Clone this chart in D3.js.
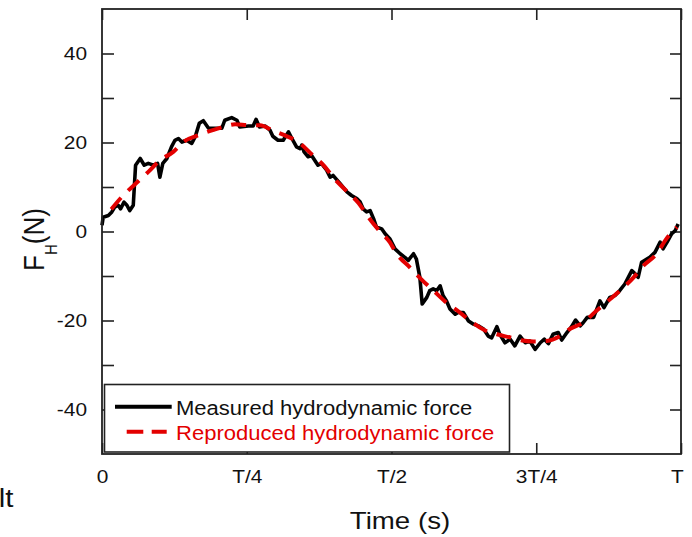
<!DOCTYPE html>
<html>
<head>
<meta charset="utf-8">
<script src="https://cdn.jsdelivr.net/npm/d3@7"></script>
<style>
  body { margin: 0; background: #fff; }
  text { font-family: Arial, "Liberation Sans", sans-serif; }
</style>
</head>
<body>
<div id="chart-area"></div>
<script>

// Data (time in periods T, force in N)
let measuredTime = [0, 0.002, 0.011, 0.017, 0.022, 0.028, 0.032, 0.038, 0.043, 0.048, 0.054, 0.058, 0.066, 0.073, 0.080, 0.089, 0.096, 0.100, 0.105, 0.112, 0.120, 0.126, 0.132, 0.138, 0.146, 0.155, 0.161, 0.168,
  0.175, 0.184, 0.195, 0.207, 0.212, 0.224, 0.233, 0.238, 0.253, 0.261, 0.266, 0.272, 0.282, 0.290, 0.295, 0.304, 0.313, 0.322, 0.328, 0.336, 0.342,
  0.345, 0.349, 0.356, 0.362, 0.373, 0.379, 0.388, 0.394, 0.399, 0.411, 0.423, 0.431, 0.440, 0.446, 0.451, 0.457, 0.463, 0.469, 0.474, 0.483, 0.489, 0.497, 0.506,
  0.515, 0.523, 0.529, 0.538, 0.543, 0.549, 0.553, 0.561, 0.566, 0.572, 0.578, 0.584, 0.589, 0.595, 0.601, 0.610, 0.615, 0.624, 0.633, 0.641, 0.650, 0.659, 0.667, 0.673,
  0.682, 0.687, 0.696, 0.705, 0.713, 0.722, 0.731, 0.739, 0.748, 0.757, 0.764, 0.771, 0.779, 0.788, 0.794, 0.803, 0.811, 0.818, 0.826, 0.831,
  0.838, 0.849, 0.860, 0.867, 0.877, 0.886, 0.894, 0.903, 0.915, 0.921, 0.926, 0.932, 0.941, 0.946, 0.955, 0.964, 0.969, 0.976, 0.984, 0.990, 0.995];

let measuredForce = [1.4, 3.2, 3.6, 4.4, 5.5, 5.9, 5.1, 6.6, 5.9, 4.7, 5.9, 14.9, 16.4, 14.9, 15.3, 14.9, 15.3, 12.2, 15.3, 16.4, 19.0, 20.5, 20.9, 20.1, 20.5, 19.8, 21.3, 24.3,
  24.9, 23.2, 23.2, 23.2, 25.0, 25.6, 25.0, 23.5, 23.7, 23.7, 25.2, 23.5, 23.7, 22.8, 21.4, 20.5, 20.5, 22.4, 20.9, 19.0, 18.6,
  19.4, 17.9, 16.8, 17.1, 14.9, 15.3, 13.8, 12.2, 12.6, 10.8, 8.9, 8.1, 7.4, 6.6, 5.1, 4.4, 4.7, 2.9, 1.0, 0.6, -0.5, -1.6, -3.9,
  -5.0, -5.8, -6.5, -5.0, -6.2, -10.3, -16.3, -14.8, -13.3, -12.9, -13.3, -12.2, -14.4, -15.6, -17.4, -18.6, -18.2, -18.2, -20.1, -20.8, -21.2, -21.9, -23.5, -23.9,
  -21.4, -23.1, -25.0, -24.2, -25.7, -23.5, -25.0, -24.6, -26.5, -25.0, -24.2, -25.2, -23.1, -22.7, -24.4, -22.7, -21.4, -19.9, -21.2, -20.5,
  -19.3, -19.3, -15.6, -17.1, -14.8, -14.4, -13.3, -11.8, -8.8, -9.5, -10.3, -6.9, -6.2, -5.8, -4.7, -2.4, -3.9, -2.4, -0.5, 0.2, 1.7];

let reproducedTime = [0.016, 0.038, 0.057, 0.080, 0.100, 0.123, 0.140, 0.166, 0.187, 0.209, 0.230, 0.254, 0.273, 0.296, 0.316, 0.342, 0.361, 0.384, 0.401, 0.424, 0.443, 0.459, 0.476, 0.497,
  0.509, 0.532, 0.552, 0.575, 0.595, 0.618, 0.636, 0.661, 0.682, 0.705, 0.722, 0.745, 0.768, 0.791, 0.808, 0.831, 0.854, 0.874, 0.898, 0.921, 0.935, 0.958, 0.975, 0.993];

let reproducedForce = [5.0, 8.3, 10.6, 13.4, 16.0, 17.9, 20.1, 21.6, 22.6, 23.5, 24.1, 23.9, 23.9, 22.6, 21.6, 19.8, 17.5, 14.7, 11.9, 8.9, 6.4, 3.4, 0.6, -2.4,
  -5.0, -8.1, -10.8, -13.6, -16.0, -18.2, -20.1, -22.2, -23.1, -23.8, -24.4, -24.7, -24.6, -23.5, -21.9, -20.5, -17.8, -15.6, -12.9, -9.9, -7.7, -5.0, -1.6, 1.0];

let xTickValues = [0, 0.25, 0.5, 0.75, 1];
let xTickLabels = ["0", "T/4", "T/2", "3T/4", "T"];
let yTickValues = [-40, -30, -20, -10, 0, 10, 20, 30, 40];
let yLabelValues = [-40, -20, 0, 20, 40];

let legendLabels = ["Measured hydrodynamic force", "Reproduced hydrodynamic force"];

// SVG drawing area
let margin = {top: 9, right: 11, bottom: 83, left: 102};

let width = 692 - margin.left - margin.right,
    height = 537 - margin.top - margin.bottom;

let stretch = 1.13; // text in the picture is a bit wider than tall

let root = d3.select("#chart-area").append("svg")
    .attr("width", 692)
    .attr("height", 537);

let svg = root.append("g")
    .attr("transform", "translate(" + margin.left + "," + margin.top + ")");

// Scales
let x = d3.scaleLinear().domain([0, 1]).range([0, width]);
let y = d3.scaleLinear().domain([-50, 50]).range([height, 0]);

// Axes (ticks point inward)
let xAxis = d3.axisBottom(x)
  .tickValues(xTickValues)
  .tickFormat((d, i) => xTickLabels[i])
  .tickSizeInner(-11).tickSizeOuter(0).tickPadding(16);
let xAxisTop = d3.axisTop(x)
  .tickValues(xTickValues)
  .tickFormat("")
  .tickSizeInner(-11).tickSizeOuter(0);
let yAxis = d3.axisLeft(y)
  .tickValues(yTickValues)
  .tickFormat(d => yLabelValues.includes(d) ? d : "")
  .tickSizeInner(-12).tickSizeOuter(0).tickPadding(15);
let yAxisRight = d3.axisRight(y)
  .tickValues(yTickValues)
  .tickFormat("")
  .tickSizeInner(-11).tickSizeOuter(0);

let xGroup = svg.append("g")
  .attr("class", "axis x-axis")
  .attr("transform", "translate(0," + height + ")")
  .call(xAxis);
svg.append("g").attr("class", "axis").call(xAxisTop);
let yGroup = svg.append("g").attr("class", "axis y-axis").call(yAxis);
svg.append("g").attr("class", "axis")
  .attr("transform", "translate(" + width + ",0)")
  .call(yAxisRight);

svg.selectAll(".axis .domain").remove();
svg.selectAll(".axis line").attr("stroke", "#222").attr("stroke-width", 1.6);

xGroup.selectAll("text")
  .attr("font-size", 18.5).attr("fill", "#111")
  .attr("transform", "scale(" + stretch + ",1)")
  .attr("x", d => (d === 1 ? -4 : 0) / stretch);

yGroup.selectAll("text")
  .attr("font-size", 18.5).attr("fill", "#111")
  .attr("x", 0)
  .attr("transform", "translate(-15,0) scale(" + stretch + ",1)");

// Lines
let measuredLine = d3.line()
  .x(d => x(d[0]))
  .y(d => y(d[1]));

let reproducedLine = d3.line()
  .x(d => x(d[0]))
  .y(d => y(d[1]))
  .curve(d3.curveMonotoneX);

svg.append("path")
  .datum(d3.zip(measuredTime, measuredForce))
  .attr("fill", "none")
  .attr("stroke", "#000")
  .attr("stroke-width", 3.6)
  .attr("stroke-linejoin", "round")
  .attr("d", measuredLine);

svg.append("path")
  .datum(d3.zip(reproducedTime, reproducedForce))
  .attr("fill", "none")
  .attr("stroke", "#e30000")
  .attr("stroke-width", 4)
  .attr("stroke-dasharray", "15,10")
  .attr("d", reproducedLine);

// Frame
svg.append("rect")
  .attr("width", width).attr("height", height)
  .attr("fill", "none")
  .attr("stroke", "#222")
  .attr("stroke-width", 1.8);

// Legend
let legend = root.append("g");
legend.append("rect")
  .attr("x", 104.5).attr("y", 384.5)
  .attr("width", 405).attr("height", 67.5)
  .attr("fill", "#fff")
  .attr("stroke", "#222")
  .attr("stroke-width", 1.6);
legend.append("line")
  .attr("x1", 115).attr("x2", 171.7)
  .attr("y1", 406.7).attr("y2", 406.7)
  .attr("stroke", "#000").attr("stroke-width", 4);
legend.append("line")
  .attr("x1", 126.7).attr("x2", 166.7)
  .attr("y1", 431.7).attr("y2", 431.7)
  .attr("stroke", "#e30000").attr("stroke-width", 4)
  .attr("stroke-dasharray", "16.6,8.4");
legend.selectAll("text.leg")
  .data(legendLabels)
  .enter().append("text")
  .attr("class", "leg")
  .attr("transform", (d, i) => "translate(176," + (415 + i * 25) + ") scale(" + stretch + ",1)")
  .attr("font-size", 19.5)
  .attr("fill", (d, i) => i === 0 ? "#111" : "#e30000")
  .text(d => d);

// Axis titles
root.append("text")
  .attr("transform", "translate(400,529.3) scale(" + stretch + ",1)")
  .attr("text-anchor", "middle")
  .attr("font-size", 24.5)
  .attr("fill", "#111")
  .text("Time (s)");

let yTitle = root.append("text")
  .attr("transform", "translate(43.5,271) scale(" + stretch + ",1) rotate(-90)")
  .attr("font-size", 26)
  .attr("fill", "#111");
yTitle.append("tspan").text("F");
yTitle.append("tspan").attr("font-size", 15).attr("dy", 12).text("H");
yTitle.append("tspan").attr("dy", -12).text("(N)");

// clipped fragment at the lower left
root.append("text")
  .attr("transform", "translate(13.5,506.7) scale(" + stretch + ",1)")
  .attr("text-anchor", "end")
  .attr("font-size", 26)
  .attr("fill", "#111")
  .text("lt");

</script>
</body>
</html>
